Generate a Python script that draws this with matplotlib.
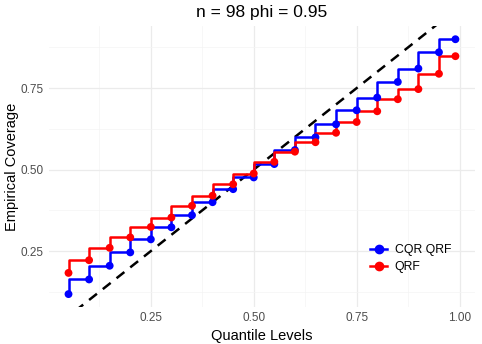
import numpy as np
import matplotlib
matplotlib.use("Agg")
import matplotlib.pyplot as plt
from matplotlib.lines import Line2D

plt.rcParams["font.family"] = ["Liberation Sans", "DejaVu Sans"]

# quantile levels and empirical coverage per method
quantiles = [0.05, 0.10, 0.15, 0.20, 0.25, 0.30, 0.35, 0.40, 0.45, 0.50,
             0.55, 0.60, 0.65, 0.70, 0.75, 0.80, 0.85, 0.90, 0.95, 0.99]
cqr_qrf = [0.118, 0.163, 0.205, 0.246, 0.286, 0.323, 0.360, 0.400, 0.440, 0.476,
           0.517, 0.560, 0.599, 0.639, 0.682, 0.721, 0.769, 0.810, 0.860, 0.900]
qrf = [0.183, 0.222, 0.260, 0.292, 0.324, 0.353, 0.389, 0.420, 0.455, 0.488,
       0.524, 0.555, 0.584, 0.613, 0.646, 0.679, 0.716, 0.747, 0.794, 0.848]
series = [("CQR QRF", cqr_qrf, "#0000FF"), ("QRF", qrf, "#FF0000")]
title = "n = 98 phi = 0.95"

fig = plt.figure(figsize=(4.82, 3.44), dpi=100)
ax = fig.add_axes([0.102, 0.108, 0.883, 0.815])

x = np.array(quantiles)
all_y = np.concatenate([cqr_qrf, qrf])
xpad = (x.max() - x.min()) * 0.05
ypad = (all_y.max() - all_y.min()) * 0.05
xlim = (x.min() - xpad, x.max() + xpad)
ylim = (all_y.min() - ypad, all_y.max() + ypad)

# reference line y = x
ax.plot([0, 1.1], [0, 1.1], color="black", linestyle=(0, (4, 3)), linewidth=1.8, zorder=2)

handles = []
for label, vals, col in series:
    ax.step(x, vals, where="pre", color=col, linewidth=1.8, zorder=3)
    ax.scatter(x, vals, color=col, s=32, zorder=4, edgecolors="none")
    handles.append(Line2D([0], [0], color=col, linewidth=1.8, marker="o",
                          markersize=6, label=label))

ax.set_xlim(*xlim)
ax.set_ylim(*ylim)
ax.set_xticks([0.25, 0.50, 0.75, 1.00])
ax.set_xticklabels(["0.25", "0.50", "0.75", "1.00"])
ax.set_yticks([0.25, 0.50, 0.75])
ax.set_yticklabels(["0.25", "0.50", "0.75"])
ax.set_xticks([0.125, 0.375, 0.625, 0.875], minor=True)
ax.set_yticks([0.125, 0.375, 0.625, 0.875], minor=True)
ax.grid(which="major", color="#EBEBEB", linewidth=0.9)
ax.grid(which="minor", color="#F4F4F4", linewidth=0.5)
ax.set_axisbelow(True)
ax.tick_params(which="both", length=0, labelsize=8.5, labelcolor="#4D4D4D", pad=4)
for s in ax.spines.values():
    s.set_visible(False)

ax.set_title(title, fontsize=12.5, pad=7)
ax.set_xlabel("Quantile Levels", fontsize=10.5, labelpad=3)
ax.set_ylabel("Empirical Coverage", fontsize=10.5, labelpad=1)

ax.legend(handles=handles, loc="lower right", bbox_to_anchor=(0.97, 0.08),
          frameon=False, fontsize=8.8, handlelength=1.4, handletextpad=0.6,
          labelspacing=0.45)

fig.savefig("out.png", dpi=100)
